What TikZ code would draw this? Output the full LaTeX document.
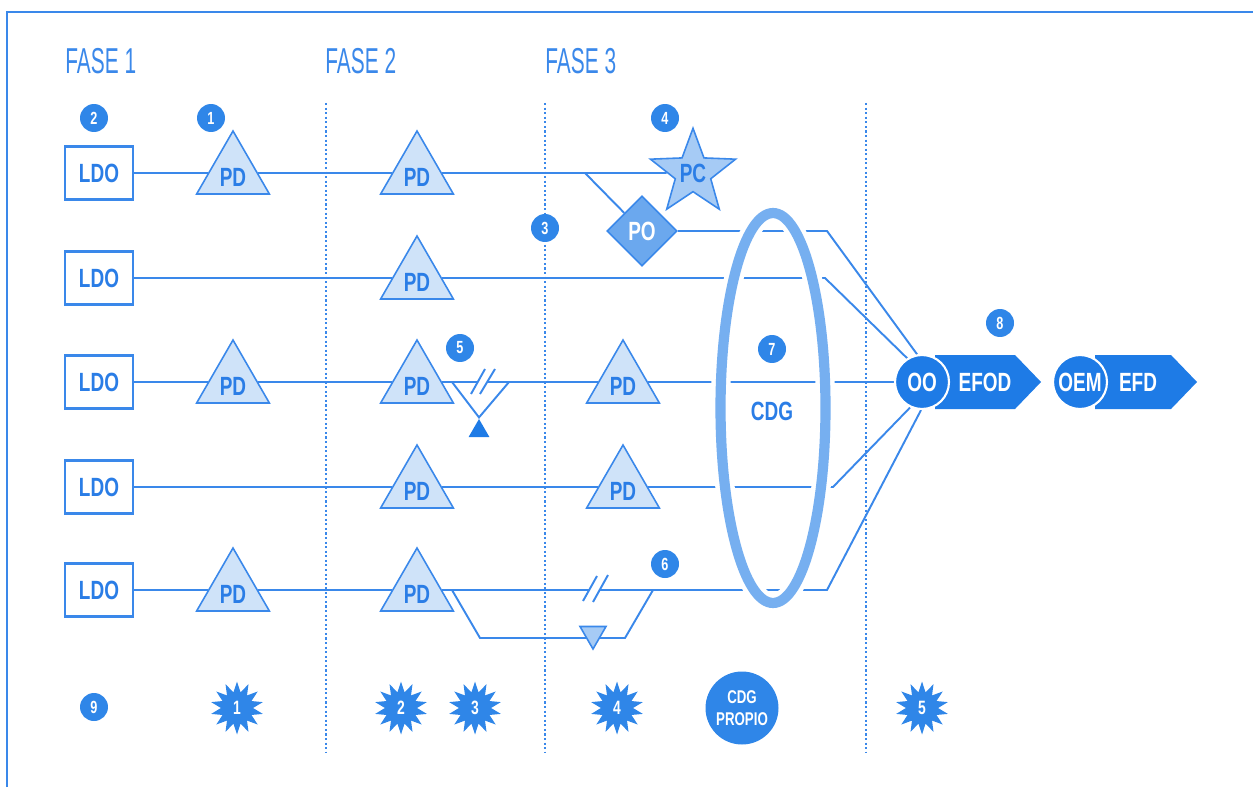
\documentclass[tikz,border=0pt]{standalone}
\usepackage{fontspec}
\setmainfont{Liberation Sans}
\newfontfamily\lblfont[FakeStretch=0.72]{Liberation Sans}
\newfontfamily\headfont[FakeStretch=0.58]{Liberation Sans}
\usetikzlibrary{shapes.geometric}

\definecolor{lineblue}{HTML}{3A88EA}
\definecolor{txtblue}{HTML}{2A7DE6}
\definecolor{trifill}{HTML}{CFE3F9}
\definecolor{pcfill}{HTML}{A6CBF5}
\definecolor{pofill}{HTML}{6BA8EE}
\definecolor{ringblue}{HTML}{76AFF0}
\definecolor{darkblue}{HTML}{1E7BE6}
\definecolor{badgeblue}{HTML}{2F86E8}

\pgfdeclarelayer{bg}
\pgfsetlayers{bg,main}

\tikzset{
  lbl/.style={inner sep=0pt, font=\lblfont\bfseries\fontsize{15}{15}\selectfont},
  phase/.style={inner sep=0pt, text=lineblue, font=\headfont\fontsize{20.5}{20.5}\selectfont},
  ldo/.style={lbl, draw=lineblue, line width=1.2pt, fill=white, minimum width=1.36cm,
    minimum height=1.06cm, text=txtblue},
  pd/.style={lbl, regular polygon, regular polygon sides=3, draw=lineblue, line width=0.9pt,
    fill=trifill, minimum size=1.68cm, text=txtblue, text height=15pt, text depth=0pt},
  tri/.style={regular polygon, regular polygon sides=3, draw=lineblue, line width=0.9pt,
    fill=pcfill, inner sep=0pt},
  badge/.style={circle, fill=badgeblue, minimum size=0.56cm, inner sep=0pt, text=white,
    font=\lblfont\bfseries\fontsize{10}{10}\selectfont},
  burst/.style={star, star points=14, star point ratio=1.65, fill=badgeblue,
    minimum size=1.06cm, inner sep=0pt, text=white,
    font=\lblfont\bfseries\fontsize{11}{11}\selectfont},
  endpt/.style={lbl, circle, fill=darkblue, draw=white, line width=1.2pt,
    minimum size=1.08cm, text=white},
  wire/.style={lineblue, line width=1.1pt},
  divider/.style={lineblue, line width=0.9pt, dash pattern=on 1.2pt off 1.4pt},
}

\begin{document}
\begin{tikzpicture}[x=0.02cm, y=-0.02cm]
  \useasboundingbox (0,0) rectangle (1253,787);

  % frame
  \draw[lineblue, line width=1.1pt] (7,787) -- (7,12) -- (1253,12);

  % phase headings
  \node[phase, anchor=base west] (fase1) at (65,74) {FASE 1};
  \node[phase, anchor=base west] (fase2) at (325,74) {FASE 2};
  \node[phase, anchor=base west] (fase3) at (545,74) {FASE 3};

  % sources
  \node[ldo] (ldo1) at (99,173) {LDO};
  \node[ldo] (ldo2) at (99,278) {LDO};
  \node[ldo] (ldo3) at (99,382) {LDO};
  \node[ldo] (ldo4) at (99,487) {LDO};
  \node[ldo] (ldo5) at (99,590) {LDO};

  % distribution points
  \node[pd] (pd1a) at (233,173) {PD};
  \node[pd] (pd1b) at (417,173) {PD};
  \node[pd] (pd2b) at (417,278) {PD};
  \node[pd] (pd3a) at (233,382) {PD};
  \node[pd] (pd3b) at (417,382) {PD};
  \node[pd] (pd3c) at (623,382) {PD};
  \node[pd] (pd4b) at (417,487) {PD};
  \node[pd] (pd4c) at (623,487) {PD};
  \node[pd] (pd5a) at (233,590) {PD};
  \node[pd] (pd5b) at (417,590) {PD};

  \node[lbl, star, star points=5, star point ratio=2.4, draw=lineblue, line width=0.9pt,
    fill=pcfill, minimum size=1.78cm, text=txtblue] (pc) at (693,173) {PC};
  \node[lbl, diamond, aspect=1, draw=lineblue, line width=0.9pt, fill=pofill,
    minimum size=1.4cm, text=white] (po) at (642,231) {PO};

  \node[tri, fill=darkblue, draw=none, minimum size=0.48cm] (tri3) at (479,431) {};
  \node[tri, shape border rotate=180, minimum size=0.6cm] (tri5) at (593,634) {};

  % break marks
  \coordinate (brk3l) at (478,382);
  \coordinate (brk3r) at (487,382);
  \draw[wire] (471,394) -- (485,369);
  \draw[wire] (480,394) -- (495,369);
  \coordinate (brk5l) at (589,590);
  \coordinate (brk5r) at (599,590);
  \draw[wire] (583,601) -- (597,576);
  \draw[wire] (593,602) -- (608,575);

  % CDG ring
  \draw[white, line width=11pt] (773,408) ellipse [x radius=1.05cm, y radius=3.9cm];
  \draw[ringblue, line width=5.8pt] (773,408) ellipse [x radius=1.05cm, y radius=3.9cm];
  \node[lbl, text=txtblue] (cdg) at (772,411) {CDG};

  % outputs
  \fill[darkblue] (935,355) -- (1015,355) -- (1041,382) -- (1015,409) -- (935,409) -- cycle;
  \node[lbl, text=white] (efod) at (985,382) {EFOD};
  \node[endpt] (oo) at (922,382) {OO};
  \fill[darkblue] (1095,355) -- (1171,355) -- (1197,382) -- (1171,409) -- (1095,409) -- cycle;
  \node[lbl, text=white] (efd) at (1138,382) {EFD};
  \node[endpt] (oem) at (1080,382) {OEM};

  % numbered badges
  \node[badge] (n1) at (211,118) {1};
  \node[badge] (n2) at (94,118) {2};
  \node[badge] (n3) at (545,228) {3};
  \node[badge] (n4) at (665,118) {4};
  \node[badge] (n5) at (460,348) {5};
  \node[badge] (n6) at (665,564) {6};
  \node[badge] (n7) at (772,349) {7};
  \node[badge] (n8) at (1000,323) {8};
  \node[badge] (n9) at (94,707) {9};

  % bottom row
  \node[burst] (s1) at (237,708) {1};
  \node[burst] (s2) at (401,708) {2};
  \node[burst] (s3) at (475,708) {3};
  \node[burst] (s4) at (617,708) {4};
  \node[burst] (s5) at (922,708) {5};
  \node[circle, fill=badgeblue, minimum size=1.46cm, inner sep=0pt, text=white, align=center,
    font=\lblfont\bfseries\fontsize{10.5}{12.5}\selectfont] (own) at (742,708) {CDG\\PROPIO};

  \begin{pgfonlayer}{bg}
    \draw[divider] (326,103) -- (326,752);
    \draw[divider] (545,103) -- (545,752);
    \draw[divider] (866,103) -- (866,752);

    \coordinate (b1) at (585,173);
    \coordinate (k1) at (827,231);
    \coordinate (k2) at (825,278);
    \coordinate (b3a) at (452,382);
    \coordinate (b3b) at (509,382);
    \coordinate (k4) at (833,487);
    \coordinate (k5) at (827,590);
    \coordinate (b5a) at (452,590);
    \coordinate (c5a) at (480,638);
    \coordinate (c5b) at (625,638);
    \coordinate (b5b) at (653,590);

    \draw[wire] (ldo1) -- (pd1a) -- (pd1b) -- (pc);
    \draw[wire] (b1) -- (po);
    \draw[wire] (po) -- (k1) -- (oo.100);
    \draw[wire] (ldo2) -- (pd2b) -- (k2) -- (oo.122);
    \draw[wire] (ldo3) -- (pd3a) -- (pd3b) -- (brk3l);
    \draw[wire] (brk3r) -- (pd3c) -- (oo);
    \draw[wire] (b3a) -- (tri3.corner 1) -- (b3b);
    \draw[wire] (ldo4) -- (pd4b) -- (pd4c) -- (k4) -- (oo.245);
    \draw[wire] (ldo5) -- (pd5a) -- (pd5b) -- (brk5l);
    \draw[wire] (brk5r) -- (k5) -- (oo.268);
    \draw[wire] (b5a) -- (c5a) -- (c5b) -- (b5b);
  \end{pgfonlayer}
\end{tikzpicture}
\end{document}
